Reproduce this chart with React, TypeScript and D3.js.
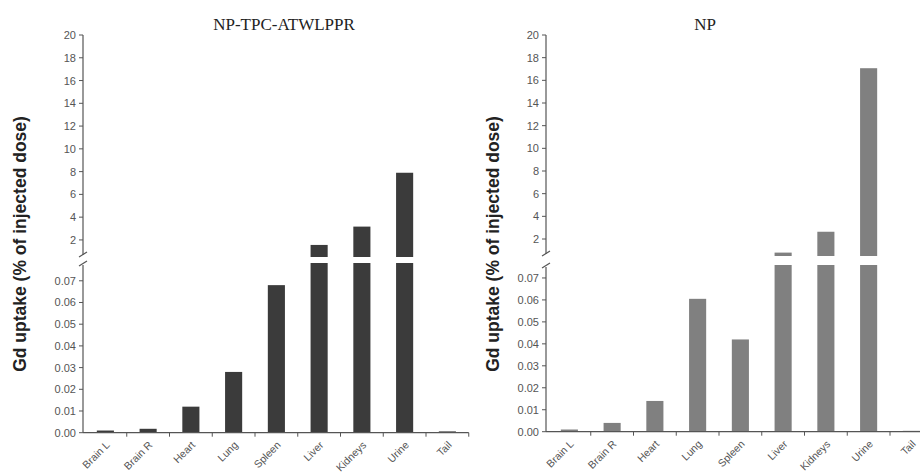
import React from "react";
import * as d3 from "d3";

const organs = ["Brain L", "Brain R", "Heart", "Lung", "Spleen", "Liver", "Kidneys", "Urine", "Tail"];
const targetedValues = [0.001, 0.0018, 0.012, 0.028, 0.068, 1.56, 3.17, 7.9, 0.0006];
const plainValues = [0.001, 0.004, 0.014, 0.0605, 0.042, 0.8, 2.64, 17.07, 0.0004];
const upperTicks = [2, 4, 6, 8, 10, 12, 14, 16, 18, 20];
const lowerTicks = [0, 0.01, 0.02, 0.03, 0.04, 0.05, 0.06, 0.07];
const yTitle = "Gd uptake (% of injected dose)";

type PanelProps = {
  title: string;
  values: number[];
  color: string;
  axisX: number;
  bandStart: number;
  titleX: number;
  yTitleX: number;
  lowerTop: number;
  lowerBottom: number;
  lowerMax: number;
  upperBottom: number;
};

function Panel(p: PanelProps) {
  const bandW = 42.75;
  const x = d3.scaleBand<string>().domain(organs).range([p.bandStart, p.bandStart + bandW * organs.length]).paddingInner(0.6).paddingOuter(0.3);
  const yLow = d3.scaleLinear().domain([0, p.lowerMax]).range([p.lowerBottom, p.lowerTop]);
  const yUp = d3.scaleLinear().domain([0.5, 20]).range([p.upperBottom, 35]);
  const axisCol = "#555";
  const txtCol = "#555";
  const breakTop = yLow.range()[1];
  const bandTicks = organs.map((_, i) => p.bandStart + bandW * (i + 1));
  return (
    <g>
      <text x={p.titleX} y={30} textAnchor="middle" fontFamily="'Liberation Serif', 'Times New Roman', serif" fontSize={17} fill="#222">{p.title}</text>
      <text transform={`translate(${p.yTitleX},244) rotate(-90)`} textAnchor="middle" dominantBaseline="central" fontFamily="'Liberation Sans', Arial, sans-serif" fontWeight="bold" fontSize={17.5} fill="#222">{yTitle}</text>
      {organs.map((o, i) => {
        const v = p.values[i];
        const bx = x(o)!;
        const bw = x.bandwidth();
        if (v <= p.lowerMax) {
          return <rect key={o} x={bx} y={yLow(v)} width={bw} height={p.lowerBottom - yLow(v)} fill={p.color} />;
        }
        return (
          <g key={o}>
            <rect x={bx} y={breakTop} width={bw} height={p.lowerBottom - breakTop} fill={p.color} />
            <rect x={bx} y={yUp(v)} width={bw} height={p.upperBottom - yUp(v)} fill={p.color} />
          </g>
        );
      })}
      <line x1={p.axisX} x2={p.axisX} y1={35} y2={p.upperBottom - 2} stroke={axisCol} strokeWidth={1.2} />
      <line x1={p.axisX} x2={p.axisX} y1={breakTop + 2} y2={p.lowerBottom} stroke={axisCol} strokeWidth={1.2} />
      <line x1={p.axisX - 4} x2={p.axisX + 4} y1={p.upperBottom} y2={p.upperBottom - 5} stroke={axisCol} strokeWidth={1.2} />
      <line x1={p.axisX - 4} x2={p.axisX + 4} y1={breakTop + 3} y2={breakTop - 2} stroke={axisCol} strokeWidth={1.2} />
      {upperTicks.map((t) => (
        <g key={"u" + t}>
          <line x1={p.axisX - 4} x2={p.axisX} y1={yUp(t)} y2={yUp(t)} stroke={axisCol} />
          <text x={p.axisX - 7} y={yUp(t)} textAnchor="end" dominantBaseline="central" fontFamily="'Liberation Sans', Arial, sans-serif" fontSize={11} fill={txtCol}>{t}</text>
        </g>
      ))}
      {lowerTicks.map((t) => (
        <g key={"l" + t}>
          <line x1={p.axisX - 4} x2={p.axisX} y1={yLow(t)} y2={yLow(t)} stroke={axisCol} />
          <text x={p.axisX - 7} y={yLow(t)} textAnchor="end" dominantBaseline="central" fontFamily="'Liberation Sans', Arial, sans-serif" fontSize={11} fill={txtCol}>{d3.format(".2f")(t)}</text>
        </g>
      ))}
      <line x1={p.axisX} x2={p.bandStart + bandW * organs.length} y1={p.lowerBottom} y2={p.lowerBottom} stroke={axisCol} strokeWidth={1.2} />
      {bandTicks.map((t, i) => (
        <line key={"bt" + i} x1={t} x2={t} y1={p.lowerBottom} y2={p.lowerBottom + 4} stroke={axisCol} />
      ))}
      {organs.map((o) => {
        const cx = x(o)! + x.bandwidth() / 2 + 5;
        const cy = p.lowerBottom + 13;
        return (
          <text key={"xl" + o} transform={`translate(${cx},${cy}) rotate(-45)`} textAnchor="end" fontFamily="'Liberation Sans', Arial, sans-serif" fontSize={10.5} fill={txtCol}>{o}</text>
        );
      })}
    </g>
  );
}

export default function App() {
  return (
    <svg width={920} height={476} style={{ position: "absolute", left: 0, top: 0, background: "#fff" }}>
      <rect width={920} height={476} fill="#fff" />
      <Panel title="NP-TPC-ATWLPPR" values={targetedValues} color="#3b3b3b" axisX={83} bandStart={84} titleX={284} yTitleX={20}
        lowerTop={263} lowerBottom={432.7} lowerMax={0.0782} upperBottom={257} />
      <Panel title="NP" values={plainValues} color="#808080" axisX={546} bandStart={548} titleX={705} yTitleX={493}
        lowerTop={265} lowerBottom={431.7} lowerMax={0.0759} upperBottom={256} />
    </svg>
  );
}
